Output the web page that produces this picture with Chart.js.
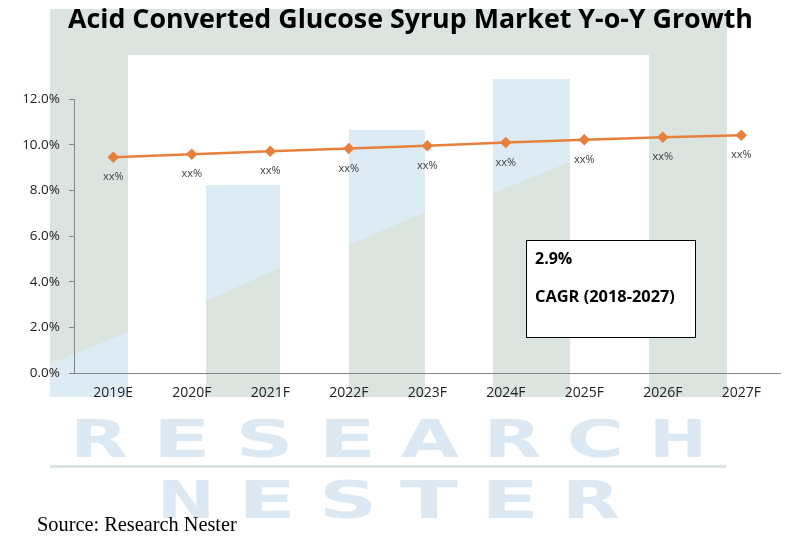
<!DOCTYPE html>
<html>
<head>
<meta charset="utf-8">
<script src="https://cdn.jsdelivr.net/npm/chart.js@4/dist/chart.umd.min.js"></script>
<style>
  html, body { margin: 0; padding: 0; background: #fff; }
  #wrap { width: 787px; height: 539px; position: relative; }
</style>
</head>
<body>
<div id="wrap"><canvas id="myChart"></canvas></div>
<script>
const categories = ['2019E', '2020F', '2021F', '2022F', '2023F', '2024F', '2025F', '2026F', '2027F'];
const growth = [9.45, 9.58, 9.71, 9.83, 9.95, 10.09, 10.22, 10.33, 10.41];
const pointLabels = ['xx%', 'xx%', 'xx%', 'xx%', 'xx%', 'xx%', 'xx%', 'xx%', 'xx%'];
const yMin = 0;
const yMax = 12;
const yStep = 2;
const titleText = 'Acid Converted Glucose Syrup Market Y-o-Y Growth';
const cagrLines = ['2.9%', 'CAGR (2018-2027)'];
const sourceText = 'Source: Research Nester';

const GREY = '#dbe4df';
const BLUE = '#ddebf4';

// fit a string to a target width, returns the font size used
function fitFont(ctx, text, weight, family, width) {
    ctx.font = `${weight} 100px ${family}`;
    const w = ctx.measureText(text).width;
    const size = 100 * width / w;
    ctx.font = `${weight} ${size}px ${family}`;
    return size;
}

function drawWord(ctx, word, x0, x1, baseline, letterW) {
    const n = word.length;
    const gap = (x1 - x0 - n * letterW) / (n - 1);
    ctx.font = 'bold 51px "DejaVu Sans"';
    ctx.textAlign = 'center';
    ctx.textBaseline = 'alphabetic';
    for (let i = 0; i < n; i++) {
        const cx = x0 + i * (letterW + gap) + letterW / 2;
        const mw = ctx.measureText(word[i]).width;
        ctx.save();
        ctx.translate(cx, baseline);
        ctx.scale(letterW / mw, 1);
        ctx.fillText(word[i], 0, 0);
        ctx.restore();
    }
}

// background logo of the publisher
const watermark = {
    id: 'watermark',
    beforeDraw(chart) {
        const ctx = chart.ctx;
        ctx.save();
        // frame
        ctx.fillStyle = GREY;
        ctx.fillRect(50, 9, 677, 46);
        ctx.fillRect(50, 9, 78, 388);
        ctx.fillRect(649, 9, 78, 388);
        // left column: blue below the diagonal
        ctx.fillStyle = BLUE;
        ctx.beginPath();
        ctx.moveTo(50, 364); ctx.lineTo(128, 332); ctx.lineTo(128, 397); ctx.lineTo(50, 397);
        ctx.closePath(); ctx.fill();
        // inner columns: blue on top, grey below the diagonal
        const cols = [[206, 280, 185, 301, 268], [349, 425, 130, 245, 212], [493, 570, 79, 193, 162]];
        cols.forEach(([a, b, top, ya, yb]) => {
            ctx.fillStyle = BLUE;
            ctx.fillRect(a, top, b - a, 397 - top);
            ctx.fillStyle = GREY;
            ctx.beginPath();
            ctx.moveTo(a, ya); ctx.lineTo(b, yb); ctx.lineTo(b, 397); ctx.lineTo(a, 397);
            ctx.closePath(); ctx.fill();
        });
        // words
        ctx.fillStyle = '#dde9f2';
        drawWord(ctx, 'RESEARCH', 70, 707, 457, 58);
        drawWord(ctx, 'NESTER', 157, 620, 518, 58);
        ctx.fillStyle = GREY;
        ctx.fillRect(50, 465, 676, 3);
        ctx.restore();
    },
    afterDraw(chart) {
        const ctx = chart.ctx;
        ctx.save();
        // title
        ctx.fillStyle = '#000';
        ctx.textAlign = 'left';
        ctx.textBaseline = 'alphabetic';
        fitFont(ctx, titleText, 'bold', '"Open Sans"', 685);
        ctx.fillText(titleText, 68, 28);

        // point labels
        const meta = chart.getDatasetMeta(0);
        ctx.font = '11px "Open Sans"';
        ctx.fillStyle = '#404040';
        ctx.textAlign = 'center';
        ctx.textBaseline = 'middle';
        meta.data.forEach((pt, i) => {
            ctx.fillText(pointLabels[i], pt.x, pt.y + 20);
        });

        // CAGR box
        ctx.fillStyle = '#fff';
        ctx.fillRect(526, 240, 170, 98);
        ctx.strokeStyle = '#000';
        ctx.lineWidth = 1;
        ctx.strokeRect(526.5, 240.5, 169, 97);
        ctx.fillStyle = '#000';
        ctx.textAlign = 'left';
        ctx.textBaseline = 'alphabetic';
        ctx.font = 'bold 16px "Open Sans"';
        ctx.fillText(cagrLines[0], 535, 264);
        fitFont(ctx, cagrLines[1], 'bold', '"Open Sans"', 140);
        ctx.fillText(cagrLines[1], 535, 302);

        // source
        fitFont(ctx, sourceText, 'normal', '"Liberation Serif"', 200);
        ctx.fillText(sourceText, 37, 531);
        ctx.restore();
    }
};

const ctx = document.getElementById('myChart');
const chart = new Chart(ctx, {
    type: 'line',
    data: {
        labels: categories,
        datasets: [{
            data: growth,
            borderColor: '#e8803d',
            backgroundColor: '#e8803d',
            borderWidth: 2.5,
            pointStyle: 'rectRot',
            pointRadius: 4,
            pointHoverRadius: 4,
            tension: 0
        }]
    },
    options: {
        responsive: true,
        maintainAspectRatio: false,
        animation: false,
        layout: { padding: { top: 99, left: 0, right: 4, bottom: 136 } },
        plugins: {
            legend: { display: false },
            title: { display: false },
            tooltip: { enabled: false }
        },
        scales: {
            x: {
                offset: true,
                grid: { display: false, drawTicks: false },
                border: { color: '#868686', width: 1 },
                ticks: {
                    color: '#222',
                    font: { family: '"Open Sans"', size: 14 },
                    padding: 12,
                    maxRotation: 0
                },
                afterFit: (scale) => { scale.height = 30; }
            },
            y: {
                min: yMin,
                max: yMax,
                grid: { drawOnChartArea: false, drawTicks: true, tickLength: 5, color: '#868686' },
                border: { color: '#868686', width: 1 },
                ticks: {
                    stepSize: yStep,
                    color: '#222',
                    font: { family: '"Open Sans"', size: 13.5 },
                    padding: 9,
                    callback: (v) => v.toFixed(1) + '%'
                },
                afterFit: (scale) => { scale.width = 74; }
            }
        }
    },
    plugins: [watermark]
});
</script>
</body>
</html>
